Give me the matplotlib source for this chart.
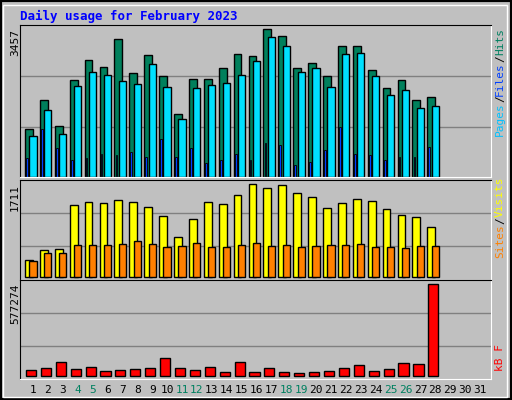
import numpy as np
import matplotlib
matplotlib.use("Agg")
import matplotlib.pyplot as plt
from matplotlib.patches import Rectangle

# values
days = np.arange(1, 29)
hits = [1111, 1799, 1181, 2260, 2730, 2565, 3222, 2425, 2847, 2354, 1463, 2284, 2284, 2542,
        2870, 2823, 3457, 3293, 2542, 2659, 2354, 3058, 3058, 2495, 2073, 2260, 1791, 1861]
files = [946, 1556, 993, 2119, 2448, 2378, 2237, 2167, 2636, 2096, 1345, 2073, 2143, 2190,
         2378, 2706, 3269, 3058, 2448, 2542, 2096, 2870, 2894, 2354, 1909, 2026, 1603, 1650]
pages = [454, 1111, 688, 407, 454, 547, 524, 594, 477, 876, 477, 688, 336, 407,
         547, 407, 805, 758, 290, 360, 641, 1158, 547, 524, 407, 477, 477, 711]
visits = [303, 488, 507, 1322, 1378, 1359, 1415, 1378, 1285, 1118, 729, 1062, 1378, 1341,
          1507, 1711, 1637, 1692, 1544, 1470, 1266, 1359, 1433, 1396, 1248, 1137, 1100, 914]
sites = [285, 433, 433, 581, 581, 581, 600, 655, 600, 544, 562, 618, 544, 544,
         581, 618, 562, 581, 544, 562, 581, 581, 600, 544, 544, 525, 562, 562]
kbytes = [33700, 46300, 84200, 40000, 52700, 27400, 33700, 40000, 46300, 109500, 46300, 33700,
          52700, 21100, 84200, 21100, 46300, 21100, 14700, 21100, 27400, 46300, 65300, 27400,
          40000, 77900, 71600, 577274]
all_days = [str(d) for d in range(1, 32)]
weekend = [4, 5, 11, 12, 18, 19, 25, 26]

W, H = 512, 400
bg = "#C0C0C0"
fig = plt.figure(figsize=(W / 100, H / 100), dpi=100, facecolor=bg)
mono = "DejaVu Sans Mono"

# outer bevel frame
fig.patches.append(Rectangle((0, 0), 1, 1, transform=fig.transFigure, fill=False,
                             edgecolor="black", linewidth=3))
fig.patches.append(Rectangle((3 / W, 3 / H), 1 - 8 / W, 1 - 8 / H, transform=fig.transFigure,
                             fill=False, edgecolor="white", linewidth=1))


def panel(top, bottom):
    ax = fig.add_axes([20 / W, 1 - bottom / H, 471 / W, (bottom - top) / H])
    ax.set_facecolor(bg)
    ax.set_xlim(0.13, 31.74)
    ax.set_xticks([])
    ax.set_yticks([])
    ax.spines["top"].set_color("black")
    ax.spines["left"].set_color("black")
    ax.spines["bottom"].set_color("white")
    ax.spines["right"].set_color("white")
    return ax


ec = dict(edgecolor="black", linewidth=1)

ax1 = panel(25, 177)
ax1.set_ylim(0, 3550)
for g in (1168, 2359):
    ax1.axhline(g, color="#808080", lw=1, zorder=0)
ax1.bar(days - 0.27, hits, width=0.52, color="#00805C", **ec)
ax1.bar(days + 0.0, files, width=0.48, color="#00E0FF", **ec)
ax1.bar(days - 0.4, pages, width=0.12, color="#0040FF", edgecolor="black", linewidth=0.6)

ax2 = panel(180, 280)
ax2.set_ylim(-60, 1790)
for g in (563, 1175):
    ax2.axhline(g, color="#808080", lw=1, zorder=0)
ax2.bar(days - 0.27, visits, width=0.52, color="#FFFF00", **ec)
ax2.bar(days + 0.0, sites, width=0.48, color="#FF8000", **ec)

ax3 = panel(280, 379)
ax3.set_ylim(-20800, 604400)
for g in (187600, 394100):
    ax3.axhline(g, color="#808080", lw=1, zorder=0)
ax3.bar(days - 0.13, kbytes, width=0.68, color="#FF0000", **ec)

# title
fig.text(20 / W, 1 - 16 / H, "Daily usage for February 2023", color="#0000FF",
         family=mono, weight="bold", fontsize=9, va="center")

# left max labels
for txt, y in (("3457", 29), ("1711", 184), ("577274", 284)):
    fig.text(15 / W, 1 - y / H, txt, rotation=90, family=mono, fontsize=8,
             ha="center", va="top")

renderer = fig.canvas.get_renderer()


def right_label(parts, y_bottom):
    # parts listed bottom to top, stacked using measured extents
    y = y_bottom
    for txt, col in parts:
        t = fig.text(500 / W, 1 - y / H, txt, rotation=90, family=mono, fontsize=8,
                     color=col, ha="center", va="bottom")
        ext = t.get_window_extent(renderer)
        y -= ext.height


right_label([("Pages", "#00C0FF"), ("/", "#000000"), ("Files", "#0040FF"),
             ("/", "#000000"), ("Hits", "#008060")], 136)
right_label([("Sites", "#FF8000"), ("/", "#000000"), ("Visits", "#FFFF00")], 258)
right_label([("kB F", "#FF0000")], 371)

# day labels
for i, lab in enumerate(all_days):
    d = i + 1
    col = "#008060" if d in weekend else "black"
    fig.text((33 + i * 14.9) / W, 1 - 390 / H, lab, color=col, family=mono,
             fontsize=8, ha="center", va="center")

fig.savefig("out.png", dpi=100, facecolor=bg)
